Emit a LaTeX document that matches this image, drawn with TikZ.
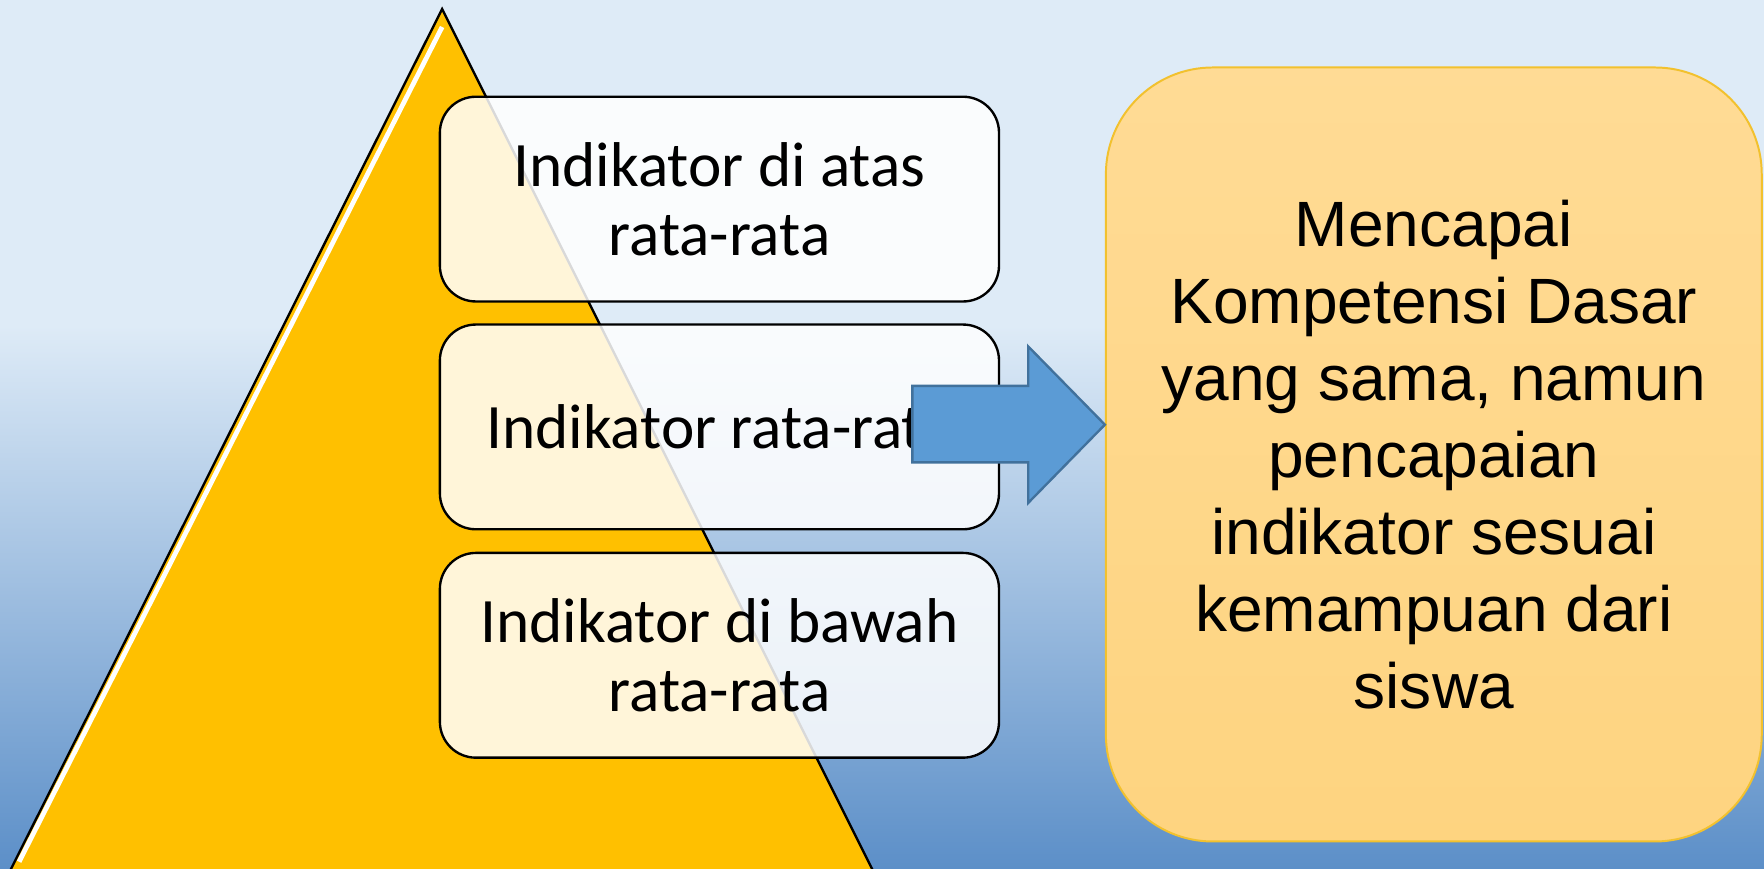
\documentclass[tikz,border=0pt]{standalone}
\usepackage{fontspec}
\newfontfamily\calibri{Carlito}
\newfontfamily\arial{Liberation Sans}
\definecolor{langit}{HTML}{DEEBF7}
\definecolor{langitbawah}{HTML}{5C8FC8}
\definecolor{emas}{HTML}{FFC000}
\definecolor{panahbiru}{HTML}{5B9BD5}
\definecolor{panahtepi}{HTML}{41719C}
\definecolor{jingga}{HTML}{FFDB95}
\definecolor{jinggabawah}{HTML}{FED480}
\definecolor{jinggatepi}{HTML}{F2C12E}
\tikzset{
  indbox/.style={draw, line width=0.6pt, rounded corners=0.32cm, fill=white,
    fill opacity=0.85, text opacity=1, minimum width=4.97cm, minimum height=1.82cm,
    align=center, font=\calibri\fontsize{16}{17.6}\selectfont},
  hasilbox/.style={draw=jinggatepi, line width=0.5pt, top color=jingga,
    bottom color=jinggabawah, rounded corners=0.95cm, minimum width=5.83cm,
    minimum height=6.88cm, align=center, font=\arial\fontsize{16.2}{19.5}\selectfont},
  panahbox/.style={draw=panahtepi, fill=panahbiru, line width=0.6pt}
}
\begin{document}
\begin{tikzpicture}
\useasboundingbox (0,0) rectangle (15.68,7.72);
\begin{scope}
\clip (0,0) rectangle (15.68,7.72);
\fill[langit] (0,4.82) rectangle (15.68,7.72);
\shade[top color=langit, bottom color=langitbawah] (0,0) rectangle (15.68,4.83);
\path[draw,fill=emas,line width=0.6pt] (3.93,7.64) -- (0.05,-0.1) -- (7.80,-0.1) -- cycle;
\path[draw,white,line width=1.2pt] (3.93,7.48) -- (0.17,0.06);
\end{scope}
\node[indbox] (atas) at (6.395,5.95) {Indikator di atas\\rata-rata};
\node[indbox] (tengah) at (6.395,3.925) {Indikator rata-rata};
\node[indbox] (bawah) at (6.395,1.895) {Indikator di bawah\\rata-rata};
\node[hasilbox] (hasil) at (12.745,3.68) {Mencapai\\Kompetensi Dasar\\yang sama, namun\\pencapaian\\indikator sesuai\\kemampuan dari\\siswa};
\coordinate (ujung) at (hasil.west |- 0,3.945);
\path[panahbox] (8.11,4.29) -- (9.14,4.29) -- (9.14,4.64) -- (ujung) -- (9.14,3.25) -- (9.14,3.61) -- (8.11,3.61) -- cycle;
\end{tikzpicture}
\end{document}
